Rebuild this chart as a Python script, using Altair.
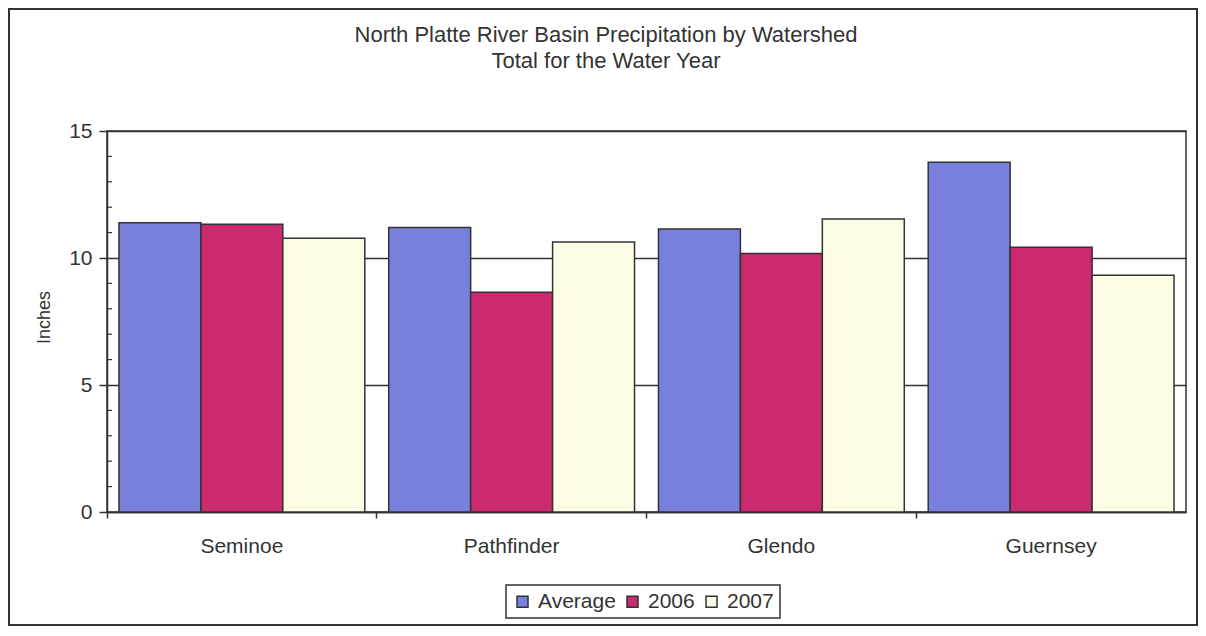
import altair as alt
import pandas as pd

sites = ["Seminoe", "Pathfinder", "Glendo", "Guernsey"]
series = ["Average", "2006", "2007"]
average = [11.39, 11.20, 11.14, 13.77]
y2006 = [11.33, 8.65, 10.18, 10.42]
y2007 = [10.78, 10.63, 11.54, 9.32]
colors = ["#7880dc", "#cc2a6e", "#fdfce4"]
major_ticks = [0, 5, 10, 15]
minor_ticks = [1, 2, 3, 4, 6, 7, 8, 9, 11, 12, 13, 14]
title_text = "North Platte River Basin Precipitation by Watershed\nTotal for the Water Year"

rows = []
for name, vals in zip(series, [average, y2006, y2007]):
    for s, v in zip(sites, vals):
        rows.append({"site": s, "series": name, "value": v})
df = pd.DataFrame(rows)
minor_df = pd.DataFrame({"v": minor_ticks})

W, H = 1079, 381
FONT = "Liberation Sans"
INK = "#333333"
FS = 21
yscale = alt.Scale(domain=[0, 15], nice=False, zero=True)
yaxis = alt.Axis(values=major_ticks, title="Inches", grid=True,
                 titleX=-54, titleY=186)

bars = alt.Chart(df).mark_bar(stroke=INK, strokeWidth=1.5).encode(
    x=alt.X("site:N", sort=sites,
            scale=alt.Scale(paddingInner=0, paddingOuter=0),
            axis=alt.Axis(title=None, labelAngle=0, bandPosition=0,
                          tickSize=6, labelPadding=17, grid=False)),
    xOffset=alt.XOffset("series:N", sort=series,
                        scale=alt.Scale(paddingInner=0, paddingOuter=0.146)),
    y=alt.Y("value:Q", scale=yscale, axis=yaxis),
    color=alt.Color("series:N", sort=series,
                    scale=alt.Scale(domain=series, range=colors),
                    legend=alt.Legend(title=None, orient="none",
                                      direction="horizontal",
                                      legendX=399, legendY=454,
                                      symbolType="square", symbolSize=121,
                                      symbolStrokeColor=INK,
                                      symbolStrokeWidth=1.5,
                                      labelFontSize=FS, labelFont=FONT,
                                      labelColor=INK, labelOffset=5,
                                      columnPadding=6, strokeColor=INK,
                                      padding=6, fillColor="white")),
)

minor = alt.Chart(minor_df).mark_rule(color=INK, strokeWidth=1.2).encode(
    y=alt.Y("v:Q", scale=yscale, axis=yaxis),
    x=alt.value(0),
    x2=alt.value(5),
)

frame = alt.Chart(pd.DataFrame({"k": [0]})).mark_rect(
    fill=None, stroke=INK, strokeWidth=2
).encode(
    x=alt.value(-98), x2=alt.value(1090),
    y=alt.value(-122), y2=alt.value(494),
)

title = alt.Chart(pd.DataFrame({"t": [title_text]})).mark_text(
    font=FONT, fontSize=22, color=INK, align="center",
    baseline="alphabetic", lineBreak="\n", lineHeight=26
).encode(
    text="t:N", x=alt.value(499), y=alt.value(-89),
)

chart = alt.layer(frame, title, bars, minor).properties(
    width=W, height=H,
    background="white",
    autosize=alt.AutoSizeParams(type="none"),
    padding={"left": 99, "top": 123, "right": 12, "bottom": 114},
).configure_view(
    stroke=INK, strokeWidth=1.5
).configure_legend(
    strokeWidth=1.5
).configure_axis(
    labelFont=FONT, labelFontSize=FS, labelColor=INK,
    titleFont=FONT, titleFontSize=18, titleFontWeight="normal",
    titleColor=INK, domainColor=INK, domainWidth=1.5,
    tickColor=INK, tickWidth=1.5, gridColor=INK, gridWidth=1.3,
).configure_axisY(
    tickSize=8, labelPadding=7
)

chart.save("out.html", embed_options={"renderer": "svg", "actions": False})
